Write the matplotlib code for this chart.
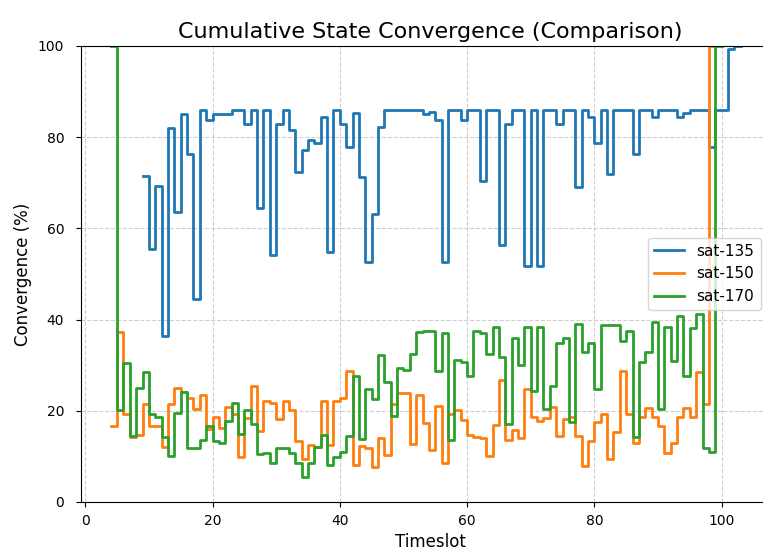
import numpy as np
import matplotlib
matplotlib.use("Agg")
import matplotlib.pyplot as plt

nan = np.nan

# timeslots 4..103
timeslots = list(range(4, 104))

sat_135 = [nan] * 5 + [
    71.5, 55.4, 69.4, 36.5, 82.1, 63.7, 85.1, 76.3, 44.5, 86.0,   # 9-18
    83.8, 85.1, 85.1, 85.1, 86.0, 86.0, 83.0, 86.0, 64.4, 86.0,   # 19-28
    54.2, 83.0, 86.0, 81.6, 72.4, 77.2, 79.4, 78.7, 84.5, 54.9,   # 29-38
    86.0, 83.0, 77.8, 85.2, 71.3, 52.7, 63.2, 82.2, 86.0, 86.0,   # 39-48
    86.0, 86.0, 86.0, 86.0, 85.1, 85.6, 83.8, 52.7, 86.0, 86.0,   # 49-58
    83.8, 86.0, 86.0, 70.5, 86.0, 86.0, 56.4, 83.0, 86.0, 86.0,   # 59-68
    51.8, 86.0, 51.8, 86.0, 86.0, 83.0, 86.0, 86.0, 69.0, 86.0,   # 69-78
    84.5, 78.7, 86.0, 71.9, 86.0, 86.0, 86.0, 76.3, 86.0, 86.0,   # 79-88
    84.5, 86.0, 86.0, 86.0, 84.5, 85.4, 86.0, 86.0, 86.0, 77.8,   # 89-98
    86.0, 86.0, 99.3, 100.0, 100.0,                               # 99-103
]

sat_150 = [
    16.7, 37.3, 19.2, 14.3, 14.7, 21.5, 16.7, 16.7, 12.1, 21.5,   # 4-13
    25.0, 24.2, 22.7, 20.5, 23.4, 16.0, 18.7, 16.2, 20.8, 19.4,   # 14-23
    9.9, 18.5, 25.4, 15.5, 22.2, 21.6, 18.1, 22.2, 20.2, 13.4,    # 24-33
    9.5, 12.5, 12.1, 22.2, 12.5, 22.2, 22.7, 28.8, 8.2, 12.3,     # 34-43
    11.9, 7.6, 14.1, 10.3, 21.4, 23.8, 23.8, 12.8, 23.5, 17.4,    # 44-53
    11.3, 21.0, 8.6, 19.4, 20.2, 18.0, 14.7, 14.3, 14.0, 10.1,    # 54-63
    16.9, 26.8, 13.6, 15.8, 14.1, 24.7, 18.6, 17.8, 18.4, 20.9,   # 64-73
    14.5, 18.2, 18.6, 14.5, 8.0, 13.4, 17.6, 19.4, 9.4, 15.4,     # 74-83
    28.8, 19.4, 12.9, 18.7, 20.7, 18.7, 16.7, 10.8, 12.9, 18.7,   # 84-93
    20.7, 18.7, 28.6, 21.5, 100.0,                                # 94-98
] + [nan] * 5

sat_170 = [
    100.0, 20.2, 30.4, 14.4, 25.0, 28.6, 19.4, 18.7, 14.3, 10.0,  # 4-13
    19.5, 24.2, 11.8, 11.8, 13.6, 16.6, 13.4, 12.9, 17.8, 21.7,   # 14-23
    15.0, 20.1, 17.1, 10.5, 10.7, 8.5, 11.8, 11.8, 10.7, 8.5,     # 24-33
    5.5, 8.5, 12.0, 14.7, 8.2, 9.9, 11.0, 14.5, 27.6, 13.8,       # 34-43
    24.8, 22.5, 32.3, 26.4, 18.8, 29.4, 29.0, 32.5, 37.3, 37.6,   # 44-53
    37.5, 28.7, 37.1, 13.5, 31.1, 30.6, 27.7, 37.6, 37.1, 32.5,   # 54-63
    38.4, 31.8, 17.0, 35.9, 30.0, 38.4, 24.3, 38.4, 20.5, 25.4,   # 64-73
    34.9, 35.9, 17.6, 39.0, 33.0, 34.9, 24.7, 38.8, 38.8, 38.8,   # 74-83
    35.2, 37.6, 14.2, 30.8, 33.0, 39.5, 20.5, 38.3, 31.0, 40.8,   # 84-93
    27.6, 38.1, 41.2, 11.8, 11.0, 100.0,                          # 94-99
] + [nan] * 4

series = {"sat-135": sat_135, "sat-150": sat_150, "sat-170": sat_170}

fig = plt.figure(figsize=(7.63, 5.5), dpi=100)
ax = fig.add_axes([0.1068, 0.0873, 0.914, 0.8291])

for name, vals in series.items():
    ax.step(timeslots, vals, where="post", linewidth=2, label=name)

ax.set_xlim(-0.6, 109)
ax.set_ylim(0, 100)
ax.set_title("Cumulative State Convergence (Comparison)", fontsize=16)
ax.set_xlabel("Timeslot", fontsize=12)
ax.set_ylabel("Convergence (%)", fontsize=12)
ax.tick_params(axis="y", pad=9)
ax.tick_params(axis="x", pad=5)
ax.grid(True, linestyle="--", alpha=0.6)
ax.legend(loc="center left", bbox_to_anchor=(0.812, 0.5),
          borderaxespad=0, fontsize=11)

fig.savefig("out.png", dpi=100)
